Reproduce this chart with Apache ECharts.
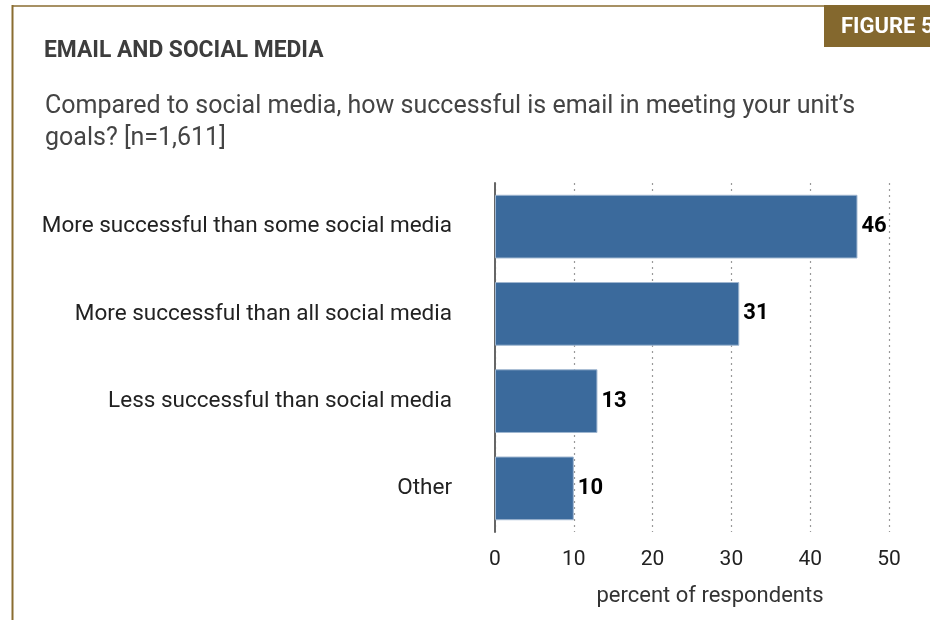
<!DOCTYPE html>
<html>
<head>
<meta charset="utf-8">
<script src="https://cdn.jsdelivr.net/npm/echarts@6/dist/echarts.min.js"></script>
<style>
  html, body { margin: 0; padding: 0; background: #fff; }
  #chart { width: 930px; height: 620px; }
</style>
</head>
<body>
<div id="chart"></div>
<script>
// Survey answers, listed top to bottom as drawn
const categories = [
  'More successful than some social media',
  'More successful than all social media',
  'Less successful than social media',
  'Other'
];
const percentValues = [46, 31, 13, 10];
const xTicks = [0, 10, 20, 30, 40, 50];

const figureLabel = 'FIGURE 5';
const heading = 'EMAIL AND SOCIAL MEDIA';
const question = 'Compared to social media, how successful is email in meeting your unit\u2019s\ngoals? [n=1,611]';
const axisTitle = 'percent of respondents';

const gold = '#8a6d30';
const barBlue = '#3b6a9c';

const chart = echarts.init(document.getElementById('chart'), null, { renderer: 'canvas' });

chart.setOption({
  animation: false,
  backgroundColor: '#ffffff',
  grid: { left: 495, right: 41, top: 183, bottom: 88, containLabel: false },
  graphic: [
    // frame: top rule and left rule
    { type: 'line', shape: { x1: 12, y1: 6, x2: 824, y2: 6 }, style: { stroke: gold, lineWidth: 1.5 } },
    { type: 'line', shape: { x1: 12.5, y1: 5, x2: 12.5, y2: 620 }, style: { stroke: gold, lineWidth: 2 } },
    // figure badge
    { type: 'rect', shape: { x: 824, y: 5, width: 110, height: 42 }, style: { fill: '#84682e' } },
    { type: 'text', x: 841, y: 27, style: { text: figureLabel, fill: '#ffffff', font: 'bold 22px Roboto', verticalAlign: 'middle' } },
    // heading
    { type: 'text', x: 44, y: 51, scaleX: 0.95, style: { text: heading, fill: '#3d3d3d', font: 'bold 24px Roboto', verticalAlign: 'middle' } },
    // question
    { type: 'text', x: 45, y: 91, style: { text: question, fill: '#444444', font: '25px Roboto', lineHeight: 32 } }
  ],
  xAxis: {
    type: 'value',
    min: 0,
    max: 50,
    interval: 10,
    axisLine: { show: false },
    axisTick: { show: false },
    axisLabel: {
      color: '#222222',
      fontSize: 21,
      fontFamily: 'Roboto',
      margin: 17,
      formatter: v => (xTicks.includes(v) ? String(v) : '')
    },
    splitLine: {
      show: true,
      lineStyle: { color: '#999999', type: [2, 4], width: 1.2 }
    },
    name: axisTitle,
    nameLocation: 'middle',
    nameGap: 53,
    nameTextStyle: { color: '#333333', fontSize: 22, fontFamily: 'Roboto', padding: [0, 0, 0, 36] }
  },
  yAxis: {
    type: 'category',
    data: categories,
    inverse: true,
    axisLine: { show: true, lineStyle: { color: '#666666', width: 2 } },
    axisTick: { show: false },
    axisLabel: { color: '#222222', fontSize: 22.5, fontFamily: 'Roboto', margin: 43, padding: [6, 0, 0, 0] }
  },
  series: [{
    type: 'bar',
    data: percentValues,
    barWidth: '73%',
    itemStyle: { color: barBlue, borderColor: '#9fb6d0', borderWidth: 1 },
    label: {
      show: true,
      position: 'right',
      distance: 4,
      color: '#000000',
      fontSize: 22,
      fontWeight: 'bold',
      fontFamily: 'Roboto',
      padding: [4, 0, 0, 0]
    },
    z: 3
  }]
});
</script>
</body>
</html>
